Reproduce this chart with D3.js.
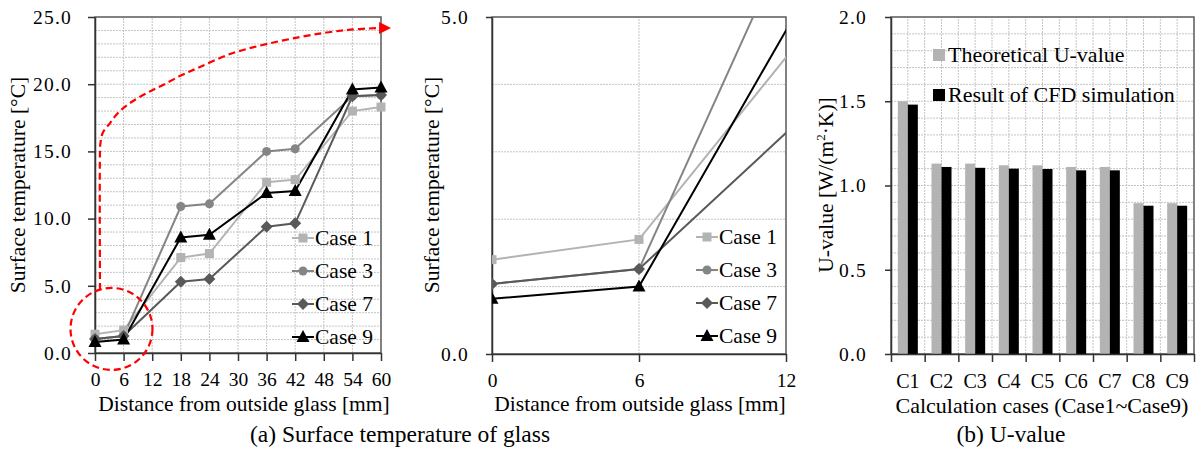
<!DOCTYPE html>
<html>
<head>
<meta charset="utf-8">
<script src="https://cdn.jsdelivr.net/npm/d3@7"></script>
<style>
  body { margin: 0; background: #fff; }
  svg text { font-family: "Liberation Serif", "Times New Roman", serif; fill: #000; }
</style>
</head>
<body>
<svg id="chart" width="1199" height="452"></svg>
<script>
// distances from outside glass [mm]
const distances = [0, 6, 18, 24, 36, 42, 54, 60];

// surface temperature [°C] for each case
const case1 = [1.4, 1.7, 7.1, 7.4, 12.7, 12.9, 18.0, 18.3];
const case3 = [1.04, 1.26, 10.9, 11.1, 15.0, 15.2, 19.1, 19.2];
const case7 = [1.04, 1.26, 5.3, 5.5, 9.4, 9.65, 19.1, 19.2];
const case9 = [0.82, 1.0, 8.6, 8.8, 11.9, 12.05, 19.6, 19.75];

const caseNames = ['Case 1', 'Case 3', 'Case 7', 'Case 9'];

// U-value chart
const calcCases = ['C1', 'C2', 'C3', 'C4', 'C5', 'C6', 'C7', 'C8', 'C9'];
const theoretical = [1.50, 1.13, 1.13, 1.12, 1.12, 1.11, 1.11, 0.895, 0.895];
const cfdResult = [1.48, 1.11, 1.105, 1.10, 1.098, 1.09, 1.09, 0.88, 0.88];

// red annotation path (data units of left chart)
const arrowPath = [[1.05, 4.7], [1.05, 15.1], [1.15, 15.63], [1.62, 16.37], [3.15, 17.11],
  [4.82, 17.86], [7.34, 18.6], [10.91, 19.35], [14.26, 19.94], [18.25, 20.68],
  [22.03, 21.28], [28.95, 22.32], [43.0, 23.51], [52.86, 24.03], [59.8, 24.18]];

const series = [
  {name: caseNames[0], vals: case1, color: '#b3b3b3', shape: 'square'},
  {name: caseNames[1], vals: case3, color: '#858585', shape: 'circle'},
  {name: caseNames[2], vals: case7, color: '#595959', shape: 'diamond'},
  {name: caseNames[3], vals: case9, color: '#000000', shape: 'triangle'}
];

const svg = d3.select('#chart');
const titleFont = 21.5;
const tickFont = 19.5;
const capFont = 23.5;

function marker(g, shape, color, x, y) {
  if (shape === 'square') {
    g.append('rect').attr('x', x - 4.5).attr('y', y - 4.5)
      .attr('width', 9).attr('height', 9).attr('fill', color);
  } else if (shape === 'circle') {
    g.append('circle').attr('cx', x).attr('cy', y).attr('r', 4.5).attr('fill', color);
  } else if (shape === 'diamond') {
    g.append('path').attr('d', `M${x},${y - 6}L${x + 6},${y}L${x},${y + 6}L${x - 6},${y}Z`)
      .attr('fill', color);
  } else {
    g.append('path').attr('d', `M${x},${y - 7}L${x + 6.5},${y + 5}L${x - 6.5},${y + 5}Z`)
      .attr('fill', color);
  }
}

function gridLines(g, x, y, xs, ys) {
  g.append('g').selectAll('line').data(ys).join('line')
    .attr('x1', x.range()[0]).attr('x2', x.range()[1])
    .attr('y1', d => y(d)).attr('y2', d => y(d))
    .attr('stroke', '#c4c4c4').attr('stroke-dasharray', '2,1').attr('stroke-width', 1);
  g.append('g').selectAll('line').data(xs).join('line')
    .attr('y1', y.range()[0]).attr('y2', y.range()[1])
    .attr('x1', d => x(d)).attr('x2', d => x(d))
    .attr('stroke', '#c4c4c4').attr('stroke-dasharray', '2,1').attr('stroke-width', 1);
}

function frame(g, x, y) {
  g.append('rect')
    .attr('x', x.range()[0]).attr('y', y.range()[1])
    .attr('width', x.range()[1] - x.range()[0])
    .attr('height', y.range()[0] - y.range()[1])
    .attr('fill', 'none').attr('stroke', '#595959').attr('stroke-width', 1.5);
}

function styleAxis(a, vertical) {
  a.select('.domain').attr('stroke', '#333').attr('stroke-width', 1.5);
  a.selectAll('.tick line').attr('stroke', '#333').attr('stroke-width', 1.5);
  a.selectAll('text').attr('font-size', tickFont).style('font-family', '"Liberation Serif", serif');
  if (vertical) a.selectAll('text').attr('letter-spacing', 1.2);
}

function drawLines(g, x, y, withMarkers) {
  const line = d3.line().x((d, i) => x(distances[i])).y(d => y(d));
  series.forEach(s => {
    g.append('path').datum(s.vals).attr('d', line)
      .attr('fill', 'none').attr('stroke', s.color).attr('stroke-width', 2);
  });
  series.forEach(s => {
    s.vals.forEach((v, i) => {
      if (withMarkers || distances[i] <= x.domain()[1]) marker(g, s.shape, s.color, x(distances[i]), y(v));
    });
  });
}

function legend(g, x0, y0) {
  series.forEach((s, i) => {
    const yy = y0 + i * 33;
    g.append('line').attr('x1', x0).attr('x2', x0 + 22).attr('y1', yy).attr('y2', yy)
      .attr('stroke', s.color).attr('stroke-width', 2);
    marker(g, s.shape, s.color, x0 + 11, yy);
    g.append('text').attr('x', x0 + 23).attr('y', yy + 7).attr('font-size', titleFont).text(s.name);
  });
}

// ---------- left chart ----------
{
  const x = d3.scaleLinear().domain([0, 60]).range([95, 381]);
  const y = d3.scaleLinear().domain([0, 25]).range([353, 17]);
  const g = svg.append('g');
  gridLines(g, x, y, d3.range(6, 60, 6), d3.range(1, 25, 1));
  frame(g, x, y);

  const xa = g.append('g').attr('transform', `translate(0,${y(0)})`)
    .call(d3.axisBottom(x).tickValues(d3.range(0, 61, 6)).tickSize(8).tickSizeOuter(0).tickPadding(11));
  styleAxis(xa, false);
  const ya = g.append('g').attr('transform', `translate(${x(0)},0)`)
    .call(d3.axisLeft(y).tickValues(d3.range(0, 26, 5)).tickFormat(d3.format('.1f')).tickSize(7).tickSizeOuter(0).tickPadding(16));
  styleAxis(ya, true);

  drawLines(g, x, y, true);
  legend(g, 292, 238);

  // red annotation
  const curve = d3.line().x(d => x(d[0])).y(d => y(d[1])).curve(d3.curveCatmullRom);
  g.append('path').datum(arrowPath).attr('d', curve)
    .attr('fill', 'none').attr('stroke', '#ff0000').attr('stroke-width', 2.2).attr('stroke-dasharray', '7,4');
  const tip = arrowPath[arrowPath.length - 1];
  g.append('path')
    .attr('d', `M${x(tip[0]) - 1},${y(tip[1]) - 6}L${x(tip[0]) + 11},${y(tip[1])}L${x(tip[0]) - 1},${y(tip[1]) + 6}Z`)
    .attr('fill', '#ff0000');
  g.append('circle').attr('cx', x(3.46)).attr('cy', y(1.79)).attr('r', 41)
    .attr('fill', 'none').attr('stroke', '#ff0000').attr('stroke-width', 2.2).attr('stroke-dasharray', '7,4');

  g.append('text').attr('x', 244).attr('y', 411).attr('text-anchor', 'middle')
    .attr('font-size', titleFont).text('Distance from outside glass [mm]');
  g.append('text').attr('transform', 'translate(25,185) rotate(-90)').attr('text-anchor', 'middle')
    .attr('font-size', titleFont).text('Surface temperature [°C]');
}

// ---------- middle chart (zoom) ----------
{
  const x = d3.scaleLinear().domain([0, 12]).range([492, 786]);
  const y = d3.scaleLinear().domain([0, 5]).range([354, 17]);
  const g = svg.append('g');
  gridLines(g, x, y, [6], d3.range(1, 5, 1));
  frame(g, x, y);

  svg.append('clipPath').attr('id', 'midclip').append('rect')
    .attr('x', 492).attr('y', 17).attr('width', 294).attr('height', 337);

  const xa = g.append('g').attr('transform', `translate(0,${y(0)})`)
    .call(d3.axisBottom(x).tickValues([0, 6, 12]).tickSize(8).tickSizeOuter(0).tickPadding(11));
  styleAxis(xa, false);
  const ya = g.append('g').attr('transform', `translate(${x(0)},0)`)
    .call(d3.axisLeft(y).tickValues([0, 5]).tickFormat(d3.format('.1f')).tickSize(6).tickSizeOuter(0).tickPadding(17));
  styleAxis(ya, true);

  const lg = g.append('g').attr('clip-path', 'url(#midclip)');
  drawLines(lg, x, y, false);
  legend(g, 696, 237);

  g.append('text').attr('x', 640).attr('y', 411).attr('text-anchor', 'middle')
    .attr('font-size', titleFont).text('Distance from outside glass [mm]');
  g.append('text').attr('transform', 'translate(439,185) rotate(-90)').attr('text-anchor', 'middle')
    .attr('font-size', titleFont).text('Surface temperature [°C]');
}

svg.append('text').attr('x', 400).attr('y', 442).attr('text-anchor', 'middle')
  .attr('font-size', capFont).text('(a) Surface temperature of glass');

// ---------- right chart ----------
{
  const x = d3.scaleBand().domain(calcCases).range([891, 1194]);
  const y = d3.scaleLinear().domain([0, 2]).range([354, 17]);
  const g = svg.append('g');
  const bw = x.bandwidth();
  const halfs = d3.range(1, 18).map(k => k * 0.5); // in band units
  const xl = d3.scaleLinear().domain([0, 9]).range(x.range());
  gridLines(g, xl, y, halfs, d3.range(0.1, 2, 0.1));
  frame(g, xl, y);

  const bar = 10;
  g.selectAll('.th').data(theoretical).join('rect').attr('class', 'th')
    .attr('x', (d, i) => x(calcCases[i]) + bw / 2 - bar)
    .attr('y', d => y(d)).attr('width', bar).attr('height', d => y(0) - y(d))
    .attr('fill', '#b3b3b3');
  g.selectAll('.cfd').data(cfdResult).join('rect').attr('class', 'cfd')
    .attr('x', (d, i) => x(calcCases[i]) + bw / 2)
    .attr('y', d => y(d)).attr('width', bar).attr('height', d => y(0) - y(d))
    .attr('fill', '#000');

  const xa = g.append('g').attr('transform', `translate(0,${y(0)})`)
    .call(d3.axisBottom(xl).tickValues(d3.range(0, 10)).tickFormat('').tickSize(8).tickSizeOuter(0));
  styleAxis(xa, false);
  g.selectAll('.cl').data(calcCases).join('text').attr('class', 'cl')
    .attr('x', d => x(d) + bw / 2).attr('y', 388).attr('text-anchor', 'middle')
    .attr('font-size', 20).text(d => d);
  const ya = g.append('g').attr('transform', `translate(${xl(0)},0)`)
    .call(d3.axisLeft(y).tickValues([0, 0.5, 1, 1.5, 2]).tickFormat(d3.format('.1f')).tickSize(6).tickSizeOuter(0).tickPadding(18));
  styleAxis(ya, true);

  // legend
  const leg = [['Theoretical U-value', '#b3b3b3'], ['Result of CFD simulation', '#000']];
  leg.forEach((l, i) => {
    const yy = 55 + i * 40;
    g.append('rect').attr('x', 933).attr('y', yy - 6).attr('width', 12).attr('height', 12).attr('fill', l[1]);
    g.append('text').attr('x', 948).attr('y', yy + 7).attr('font-size', 22).text(l[0]);
  });

  g.append('text').attr('x', 1042).attr('y', 413).attr('text-anchor', 'middle')
    .attr('font-size', 22).text('Calculation cases (Case1~Case9)');
  const yl = g.append('text').attr('transform', 'translate(833,185) rotate(-90)').attr('text-anchor', 'middle')
    .attr('font-size', titleFont);
  yl.append('tspan').text('U-value [W/(m');
  yl.append('tspan').attr('font-size', 13).attr('dy', -8).text('2');
  yl.append('tspan').attr('dy', 8).text('·K)]');
  svg.append('text').attr('x', 1011).attr('y', 442).attr('text-anchor', 'middle')
    .attr('font-size', capFont).text('(b) U-value');
}
</script>
</body>
</html>
